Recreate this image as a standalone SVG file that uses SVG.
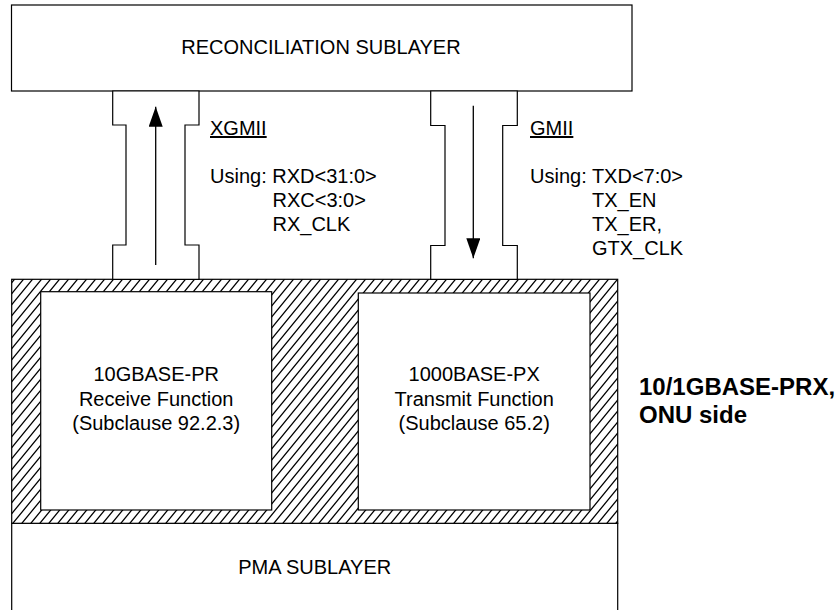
<svg xmlns="http://www.w3.org/2000/svg" width="839" height="610" viewBox="0 0 839 610">
  <style>
    .box { fill: #fff; stroke: #000; stroke-width: 1.2; }
    .t { font-family: "Liberation Sans", Arial, sans-serif; font-size: 20px; fill: #000; }
    .c { text-anchor: middle; }
    .b { font-weight: bold; font-size: 24px; }
    .arrow { stroke: #000; stroke-width: 1.3; fill: none; marker-end: url(#head); }
  </style>
  <defs>
    <pattern id="hatch" patternUnits="userSpaceOnUse" width="9" height="11">
      <rect width="9" height="11" fill="#fff"/>
      <path d="M0,11 L9,0 M-1,1.2 L1,-1.2 M8,12.2 L10,9.8" stroke="#000" stroke-width="1.3"/>
    </pattern>
    <marker id="head" markerUnits="userSpaceOnUse" markerWidth="21" markerHeight="14" refX="20" refY="7" orient="auto">
      <path d="M0,0 L20,7 L0,14 z" fill="#000"/>
    </marker>
  </defs>

  <g id="reconciliation">
    <rect class="box" x="11.5" y="5" width="620.5" height="86"/>
    <text class="t c" x="321" y="54">RECONCILIATION SUBLAYER</text>
  </g>

  <g id="pma">
    <rect class="box" x="11.7" y="523.3" width="606" height="92"/>
    <text class="t c" x="314.7" y="574">PMA SUBLAYER</text>
  </g>

  <g id="prx">
    <rect x="11.7" y="279.3" width="606" height="244" fill="url(#hatch)" stroke="#000" stroke-width="1.2"/>
    <text class="t b" x="639" y="395">10/1GBASE-PRX,</text>
    <text class="t b" x="639" y="423">ONU side</text>
  </g>

  <g id="receive">
    <rect class="box" x="40.7" y="291.7" width="231" height="218.3"/>
    <text class="t c" x="156.2" y="381">10GBASE-PR</text>
    <text class="t c" x="156.2" y="406">Receive Function</text>
    <text class="t c" x="156.2" y="430">(Subclause 92.2.3)</text>
  </g>

  <g id="transmit">
    <rect class="box" x="358.3" y="293" width="231.7" height="217"/>
    <text class="t c" x="474.2" y="381">1000BASE-PX</text>
    <text class="t c" x="474.2" y="406">Transmit Function</text>
    <text class="t c" x="474.2" y="430">(Subclause 65.2)</text>
  </g>

  <g id="xgmii">
    <polygon class="box" points="112.7,91 199,91 199,125 185,125 185,245 199,245 199,279.3 112.7,279.3 112.7,245 126,245 126,125 112.7,125"/>
    <text class="t" x="210" y="135" text-decoration="underline">XGMII</text>
    <text class="t" x="210" y="183">Using: RXD&lt;31:0&gt;</text>
    <text class="t" x="272.5" y="207">RXC&lt;3:0&gt;</text>
    <text class="t" x="272.5" y="231">RX_CLK</text>
  </g>

  <g id="gmii">
    <polygon class="box" points="430.7,91 517.3,91 517.3,125.5 502.7,125.5 502.7,245.5 517.3,245.5 517.3,279.3 430.7,279.3 430.7,245.5 445,245.5 445,125.5 430.7,125.5"/>
    <text class="t" x="530" y="135" text-decoration="underline">GMII</text>
    <text class="t" x="530" y="183">Using: TXD&lt;7:0&gt;</text>
    <text class="t" x="592" y="207">TX_EN</text>
    <text class="t" x="592" y="231">TX_ER,</text>
    <text class="t" x="592" y="255">GTX_CLK</text>
  </g>

  <g id="connectors">
    <line class="arrow" x1="155.7" y1="265" x2="155.7" y2="106.7"/>
    <line class="arrow" x1="473.3" y1="105.7" x2="473.3" y2="258.3"/>
  </g>
</svg>
